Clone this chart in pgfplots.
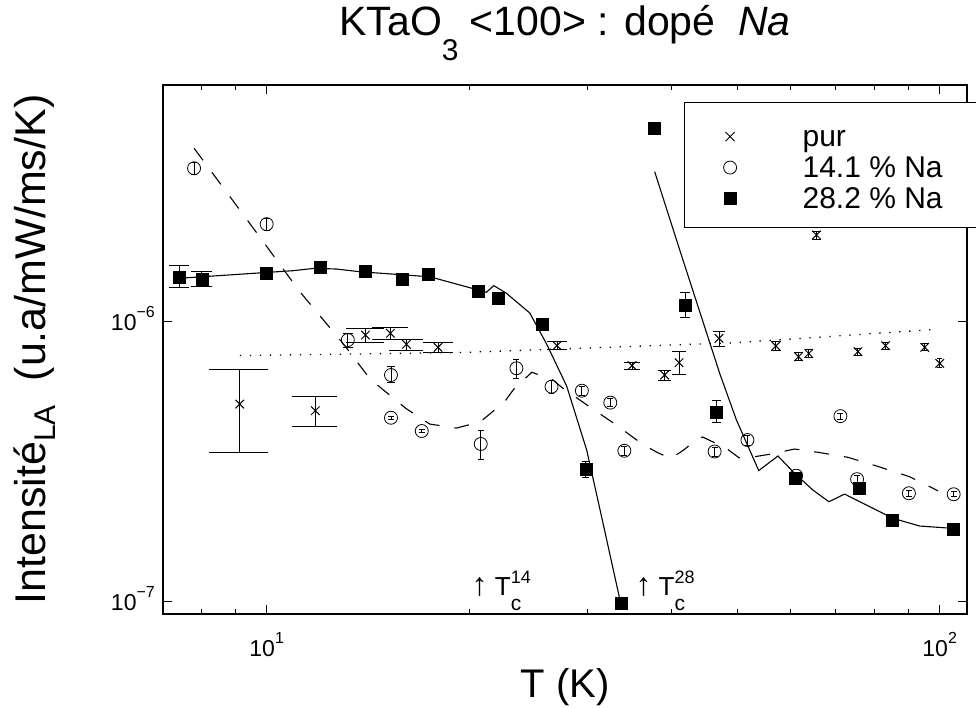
\documentclass[border=0pt]{standalone}
\usepackage{fontspec}
\setmainfont{Liberation Sans}
\usepackage{pgfplots}
\usepackage{pgfplotstable}
\pgfplotsset{compat=1.18}

\newcommand{\fs}[1]{\fontsize{#1bp}{#1bp}\selectfont}
\newcommand{\tlab}[1]{{\fs{23}10\raisebox{13bp}{\fs{16}#1}}}
\newcommand{\Tc}[1]{T\rlap{\raisebox{-15bp}{\fs{21}c}}\raisebox{12bp}{\fs{18}#1}}

% pur : x, y, lower end, upper end, cap half-width
\pgfplotstableread{
x y lo hi cw
9.12 5.08e-7 3.40e-7 6.76e-7 0.92
11.81 4.81e-7 4.22e-7 5.43e-7 0.92
14.02 8.96e-7 8.44e-7 9.47e-7 0.92
15.27 9.09e-7 8.65e-7 9.52e-7 0.92
16.13 8.30e-7 7.88e-7 8.67e-7 0.92
17.97 8.10e-7 7.79e-7 8.41e-7 0.92
27.0 8.21e-7 7.97e-7 8.48e-7 0.92
34.9 6.97e-7 6.78e-7 7.14e-7 0.92
39.03 6.45e-7 6.19e-7 6.72e-7 0.92
41.0 7.14e-7 6.50e-7 7.81e-7 0.92
47.0 8.72e-7 8.14e-7 9.21e-7 0.92
57.1 8.19e-7 7.92e-7 8.48e-7 0.92
61.7 7.50e-7 7.26e-7 7.75e-7 0.92
63.9 7.70e-7 7.46e-7 7.97e-7 0.92
65.6 2.04e-6 1.974e-6 2.108e-6 0.92
75.6 7.82e-7 7.59e-7 8.04e-7 0.92
83.1 8.21e-7 7.98e-7 8.45e-7 0.92
95.0 8.10e-7 7.87e-7 8.34e-7 0.92
100.0 7.10e-7 6.84e-7 7.37e-7 0.92
}\pur

\pgfplotstableread{
x y lo hi cw
7.80 3.53e-6 3.36e-6 3.71e-6 0.08
10.0 2.23e-6 2.12e-6 2.34e-6 0.10
13.2 8.60e-7 8.12e-7 9.11e-7 0.23
15.3 6.45e-7 6.05e-7 6.91e-7 0.20
15.3 4.54e-7 4.49e-7 4.60e-7 0.16
17.0 4.07e-7 4.02e-7 4.12e-7 0.18
20.8 3.66e-7 3.23e-7 4.10e-7 0.21
23.5 6.82e-7 6.26e-7 7.34e-7 0.24
26.5 5.86e-7 5.55e-7 6.19e-7 0.27
29.4 5.67e-7 5.47e-7 5.86e-7 0.30
32.4 5.14e-7 4.97e-7 5.31e-7 0.33
34.0 3.46e-7 3.33e-7 3.58e-7 0.35
46.3 3.44e-7 3.30e-7 3.56e-7 0.48
51.8 3.78e-7 3.63e-7 3.94e-7 0.53
61.2 2.82e-7 2.75e-7 2.89e-7 0.63
71.2 4.60e-7 4.49e-7 4.72e-7 0.73
75.4 2.74e-7 2.67e-7 2.82e-7 0.78
90.0 2.44e-7 2.38e-7 2.50e-7 0.93
104.9 2.42e-7 2.37e-7 2.485e-7 1.08
}\nai

\pgfplotstableread{
x y lo hi cw
7.41 1.447e-6 1.322e-6 1.585e-6 0.26
8.01 1.420e-6 1.334e-6 1.509e-6 0.28
10.0 1.489e-6 1.429e-6 1.551e-6 0.17
12.02 1.559e-6 1.559e-6 1.559e-6 0
14.02 1.518e-6 1.518e-6 1.518e-6 0
15.9 1.417e-6 1.417e-6 1.417e-6 0
17.4 1.480e-6 1.480e-6 1.480e-6 0
20.6 1.288e-6 1.288e-6 1.288e-6 0
22.1 1.218e-6 1.218e-6 1.218e-6 0
25.7 9.81e-7 9.81e-7 9.81e-7 0
29.8 2.97e-7 2.78e-7 3.16e-7 0.36
33.6 9.87e-8 9.4e-8 1.04e-7 0.30
37.7 4.906e-6 4.906e-6 4.906e-6 0
41.9 1.147e-6 1.033e-6 1.274e-6 0.72
46.6 4.77e-7 4.36e-7 5.22e-7 0.64
61.1 2.77e-7 2.77e-7 2.77e-7 0
76.0 2.54e-7 2.54e-7 2.54e-7 0
85.1 1.958e-7 1.958e-7 1.958e-7 0
104.7 1.814e-7 1.814e-7 1.814e-7 0
}\nbii

% fitted curves
\pgfplotstableread{
x y
9.12 7.57e-7
19.36 7.76e-7
30.2 8.06e-7
49.6 8.41e-7
67.9 8.84e-7
98.9 9.39e-7
}\fitpur

\pgfplotstableread{
x y
7.80 4.163e-6
9.76 2.011e-6
11.17 1.290e-6
12.98 8.37e-7
14.22 6.28e-7
14.81 5.78e-7
16.09 4.906e-7
17.47 4.31e-7
19.15 4.17e-7
20.77 4.39e-7
22.57 5.18e-7
23.28 5.735e-7
24.77 6.60e-7
26.63 6.19e-7
27.56 5.78e-7
30.27 4.945e-7
33.08 4.276e-7
36.15 3.657e-7
38.01 3.417e-7
39.84 3.246e-7
41.65 3.482e-7
43.40 3.78e-7
44.44 3.875e-7
48.2 3.53e-7
50.32 3.268e-7
53.11 3.296e-7
56.23 3.37e-7
60.87 3.51e-7
65.95 3.417e-7
73.06 3.279e-7
81.26 3.034e-7
90.24 2.795e-7
99.43 2.49e-7
}\fitnai

\pgfplotstableread{
x y
7.41 1.429e-6
10.94 1.521e-6
11.79 1.551e-6
12.69 1.542e-6
13.75 1.508e-6
17.47 1.447e-6
21.21 1.274e-6
21.75 1.345e-6
22.71 1.263e-6
24.6 1.074e-6
26.06 8.32e-7
27.91 5.89e-7
29.89 3.48e-7
31.58 1.926e-7
33.57 9.89e-8
}\fitnbiia

\pgfplotstableread{
x y
37.72 3.434e-6
41.09 1.804e-6
47.11 6.54e-7
49.88 4.46e-7
53.84 2.94e-7
57.51 3.315e-7
60.87 2.874e-7
64.81 2.505e-7
68.46 2.276e-7
72.24 2.424e-7
77.83 2.215e-7
85.22 1.986e-7
93.38 1.864e-7
104.7 1.828e-7
}\fitnbiib

\pgfplotsset{
  ebar/.style={draw=none, mark=none, forget plot,
    error bars/.cd, y dir=both, y explicit, error mark=none,
    error bar style={draw=black, line width=0.9bp, solid}},
  ecap/.style={draw=none, mark=none, forget plot,
    error bars/.cd, x dir=both, x explicit, error mark=none,
    error bar style={draw=black, line width=0.9bp, solid}},
}

\begin{document}
\begin{tikzpicture}
\path[use as bounding box] (0,0) rectangle (976bp,-708bp);
\begin{axis}[
  at={(163bp,-614bp)}, anchor=south west,
  width=804bp, height=529bp, scale only axis,
  xmode=log, ymode=log,
  xmin=7.014, xmax=109.8, ymin=9.04e-8, ymax=7.0e-6,
  xtick={10,100}, xticklabels={\tlab{1},\tlab{2}},
  ytick={1e-7,1e-6}, yticklabels={\tlab{−7},\tlab{−6}},
  minor xtick={8,9,20,30,40,50,60,70,80,90},
  yminorticks=false,
  tick align=inside,
  major tick length=9bp, minor tick length=5bp,
  every tick/.style={black, line width=1bp},
  axis line style={line width=1.3bp},
  xticklabel style={anchor=base, yshift=-42bp, inner sep=0pt},
  yticklabel style={anchor=base east, xshift=-8bp, yshift=-9bp, inner sep=0pt},
  title={KTaO\raisebox{-25bp}{\fs{30}3} <100> : dopé\ \ \textit{Na}},
  title style={font=\fs{41}, at={(axis description cs:0.5,1)}, anchor=base, yshift=44bp, inner sep=0pt},
  xlabel={T (K)},
  xlabel style={font=\fs{40}, at={(axis description cs:0.5,0)}, anchor=base, yshift=-83bp, inner sep=0pt},
  ylabel={Intensité\raisebox{-10bp}{\fs{30}LA}\ \ (u.a/mW/ms/K)},
  ylabel style={font=\fs{43}, at={(axis description cs:-0.146,0.5)}, anchor=base, inner sep=0pt},
  legend style={at={(0.648,0.968)}, anchor=north west, draw=black, line width=1.2bp,
    fill=white, inner xsep=39bp, inner ysep=17bp, row sep=2bp, font=\fs{30},
    nodes={inner sep=0pt, text height=27bp, text depth=2bp, anchor=base west},
    /tikz/every odd column/.append style={column sep=66bp}},
  legend image post style={yshift=10bp},
]
\addlegendimage{only marks, mark=x, mark size=6.5bp, black, line width=0.9bp}
\addlegendentry{\makebox[170bp][l]{pur}}
\addlegendimage{only marks, mark=o, mark size=6.5bp, black, line width=0.8bp}
\addlegendentry{\makebox[170bp][l]{14.1 \% Na}}
\addlegendimage{only marks, mark=square*, mark size=6bp, black}
\addlegendentry{\makebox[170bp][l]{28.2 \% Na}}

% fitted curves
\addplot[forget plot, black, line width=1.3bp, dash pattern=on 1.3bp off 8.7bp] table[x=x,y=y]{\fitpur};
\addplot[forget plot, black, line width=1.1bp, dash pattern=on 15bp off 15bp] table[x=x,y=y]{\fitnai};
\addplot[forget plot, black, line width=1.1bp] table[x=x,y=y]{\fitnbiia};
\addplot[forget plot, black, line width=1.1bp] table[x=x,y=y]{\fitnbiib};

% pur
\addplot[ebar] table[x=x, y=y, y error plus expr=\thisrow{hi}-\thisrow{y}, y error minus expr=\thisrow{y}-\thisrow{lo}]{\pur};
\addplot[ecap] table[x=x, y=hi, x error=cw]{\pur};
\addplot[ecap] table[x=x, y=lo, x error=cw]{\pur};
\addplot[forget plot, only marks, mark=x, mark size=6bp, black, line width=1bp] table[x=x,y=y]{\pur};

% 14.1 %
\addplot[ebar] table[x=x, y=y, y error plus expr=\thisrow{hi}-\thisrow{y}, y error minus expr=\thisrow{y}-\thisrow{lo}]{\nai};
\addplot[ecap] table[x=x, y=hi, x error=cw]{\nai};
\addplot[ecap] table[x=x, y=lo, x error=cw]{\nai};
\addplot[forget plot, only marks, mark=o, mark size=6.5bp, black, line width=0.8bp] table[x=x,y=y]{\nai};

% 28.2 %
\addplot[ebar] table[x=x, y=y, y error plus expr=\thisrow{hi}-\thisrow{y}, y error minus expr=\thisrow{y}-\thisrow{lo}]{\nbii};
\addplot[ecap] table[x=x, y=hi, x error=cw]{\nbii};
\addplot[ecap] table[x=x, y=lo, x error=cw]{\nbii};
\addplot[forget plot, only marks, mark=square*, mark size=6bp, black] table[x=x,y=y]{\nbii};

\node[anchor=base west, font=\fs{26}, inner sep=0pt] at (axis cs:20.15,1.057e-7) {{\fs{32}↑} \Tc{14}};
\node[anchor=base west, font=\fs{26}, inner sep=0pt] at (axis cs:35.3,1.057e-7) {{\fs{32}↑} \Tc{28}};
\end{axis}
\end{tikzpicture}
\end{document}
